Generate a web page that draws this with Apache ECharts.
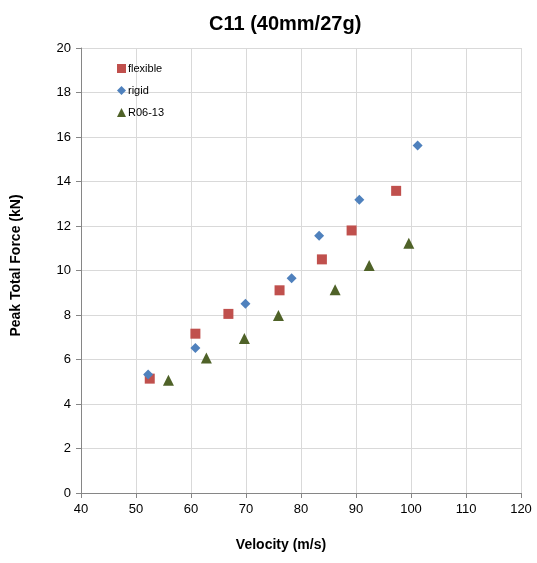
<!DOCTYPE html>
<html>
<head>
<meta charset="utf-8">
<script src="https://cdn.jsdelivr.net/npm/echarts@6/dist/echarts.min.js"></script>
<style>
html,body{margin:0;padding:0;background:#fff;}
#chart{width:537px;height:563px;}
</style>
</head>
<body>
<div id="chart"></div>
<script>
const titleText = 'C11 (40mm/27g)';
const xAxisName = 'Velocity (m/s)';
const yAxisName = 'Peak Total Force (kN)';
const seriesNames = ['flexible', 'rigid', 'R06-13'];
const flexibleX = [52.5, 60.8, 66.8, 76.1, 83.8, 89.2, 97.3];
const flexibleY = [5.14, 7.16, 8.05, 9.11, 10.5, 11.8, 13.58];
const rigidX = [52.2, 60.8, 69.9, 78.3, 83.3, 90.6, 101.2];
const rigidY = [5.33, 6.52, 8.51, 9.65, 11.56, 13.18, 15.62];
const r0613X = [55.9, 62.8, 69.7, 75.9, 86.2, 92.4, 99.6];
const r0613Y = [5.07, 6.07, 6.94, 7.98, 9.14, 10.23, 11.23];

const FONT = '"Liberation Sans", "DejaVu Sans", sans-serif';
function pairs(xs, ys){ return xs.map((x,i)=>[x, ys[i]]); }

const chart = echarts.init(document.getElementById('chart'), null, {renderer:'canvas'});
chart.setOption({
  animation: false,
  backgroundColor: '#ffffff',
  title: {
    text: titleText,
    left: 204,
    top: 9,
    textStyle: {fontFamily: FONT, fontSize: 20, fontWeight: 'bold', color: '#000'}
  },
  legend: {
    orient: 'vertical',
    left: 112,
    top: 58,
    itemGap: 11,
    itemWidth: 9,
    itemHeight: 9,
    textStyle: {fontFamily: FONT, fontSize: 11, color: '#000', padding: [0,0,0,-3]},
    data: seriesNames
  },
  grid: {left: 81, right: 16, top: 48, bottom: 70, containLabel: false},
  xAxis: {
    type: 'value',
    min: 40, max: 120, interval: 10,
    name: xAxisName,
    nameLocation: 'middle',
    nameGap: 45,
    nameTextStyle: {fontFamily: FONT, fontSize: 14, fontWeight: 'bold', color: '#000', padding: [0, 40, 0, 0]},
    axisLine: {show: true, onZero: false, lineStyle: {color: '#868686', width: 1}},
    axisTick: {show: true, inside: false, length: 5, lineStyle: {color: '#868686'}},
    axisLabel: {fontFamily: FONT, fontSize: 13, color: '#000', margin: 10},
    splitLine: {show: true, lineStyle: {color: '#d9d9d9', width: 1}}
  },
  yAxis: {
    type: 'value',
    min: 0, max: 20, interval: 2,
    name: yAxisName,
    nameLocation: 'middle',
    nameGap: 58,
    nameRotate: 90,
    nameTextStyle: {fontFamily: FONT, fontSize: 14, fontWeight: 'bold', color: '#000', padding: [0, 0, 0, 10]},
    axisLine: {show: true, onZero: false, lineStyle: {color: '#868686', width: 1}},
    axisTick: {show: true, inside: false, length: 5, lineStyle: {color: '#868686'}},
    axisLabel: {fontFamily: FONT, fontSize: 13, color: '#000', margin: 10},
    splitLine: {show: true, lineStyle: {color: '#d9d9d9', width: 1}}
  },
  series: [
    {
      name: seriesNames[0], type: 'scatter', symbol: 'rect', symbolSize: 10,
      itemStyle: {color: '#c0504d', opacity: 1},
      data: pairs(flexibleX, flexibleY)
    },
    {
      name: seriesNames[1], type: 'scatter', symbol: 'diamond', symbolSize: 10,
      itemStyle: {color: '#4f81bd', opacity: 1},
      data: pairs(rigidX, rigidY)
    },
    {
      name: seriesNames[2], type: 'scatter', symbol: 'triangle', symbolSize: 11,
      itemStyle: {color: '#4f6228', opacity: 1},
      data: pairs(r0613X, r0613Y)
    }
  ]
});
</script>
</body>
</html>
